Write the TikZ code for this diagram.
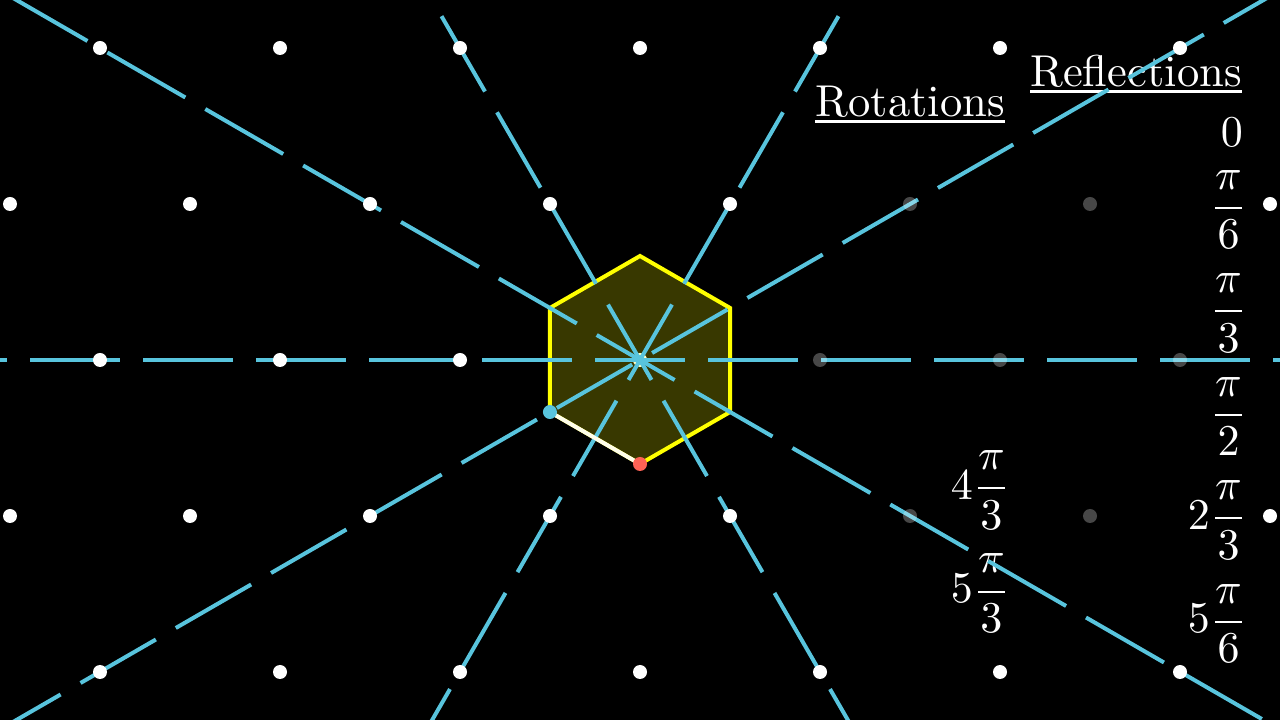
\documentclass[tikz,border=0pt]{standalone}
\usepackage{graphicx}
\usetikzlibrary{calc}
\definecolor{mblue}{HTML}{58C4DD}
\definecolor{mred}{HTML}{FC6255}
\definecolor{myellow}{HTML}{FFFF00}
\newcommand\bigtxt[1]{\scalebox{4.4}{#1}}
\newcommand\bigword[1]{\scalebox{4.46}{#1}}
\tikzset{
  lbl/.style={inner sep=0pt, text=white},
  uline/.style={draw=white, line width=2.5pt},
  axisline/.style={draw=mblue, line width=4pt},
  latdot/.style={fill=white},
  dimdot/.style={fill=white, fill opacity=0.28},
}
\begin{document}
\begin{tikzpicture}[x=1pt,y=1pt]
\useasboundingbox (0,0) rectangle (1280,720);
\fill[black] (0,0) rectangle (1280,720);
\coordinate (c) at (640,360);

% labels
\node[lbl, anchor=base east] (refl) at (1242,633.3) {\bigword{Reflections}};
\draw[uline] ([yshift=-5pt]refl.base west) -- ([yshift=-5pt]refl.base east);
\node[lbl, anchor=base east] (rot) at (1005,603.3) {\bigword{Rotations}};
\draw[uline] ([yshift=-5pt]rot.base west) -- ([yshift=-5pt]rot.base east);

\node[lbl, anchor=base east] (r0) at (1243,573) {\bigtxt{$0$}};
\node[lbl, anchor=base east] (r1) at (1247.3,501.2) {\bigtxt{$\displaystyle\frac{\pi}{6}$}};
\node[lbl, anchor=base east] (r2) at (1247.3,397.7) {\bigtxt{$\displaystyle\frac{\pi}{3}$}};
\node[lbl, anchor=base east] (r3) at (1247.3,294.2) {\bigtxt{$\displaystyle\frac{\pi}{2}$}};
\node[lbl, anchor=base east] (r4) at (1247.3,190.7) {\bigtxt{$\displaystyle 2\frac{\pi}{3}$}};
\node[lbl, anchor=base east] (r5) at (1247.3,87.2) {\bigtxt{$\displaystyle 5\frac{\pi}{6}$}};
\node[lbl, anchor=base east] (q4) at (1010.3,220.7) {\bigtxt{$\displaystyle 4\frac{\pi}{3}$}};
\node[lbl, anchor=base east] (q5) at (1010.3,117.3) {\bigtxt{$\displaystyle 5\frac{\pi}{3}$}};

% hexagon
\fill[white] (c) circle (7);
\filldraw[fill=myellow, fill opacity=0.22, draw=myellow, line width=4pt, line join=miter]
  ($(c)+(90:104)$) -- ($(c)+(30:104)$) -- ($(c)+(-30:104)$) -- ($(c)+(-90:104)$)
  -- ($(c)+(-150:104)$) -- ($(c)+(150:104)$) -- cycle;

% reflection axes
\draw[axisline, dash pattern=on 90pt off 23pt] ($(c)+(180:723)$) -- ($(c)+(0:700)$);
\draw[axisline, dash pattern=on 87pt off 23pt] ($(c)+(210:756)$) -- ($(c)+(30:760)$);
\draw[axisline, dash pattern=on 87pt off 24pt] ($(c)+(240:467)$) -- ($(c)+(60:450)$);
\draw[axisline, dash pattern=on 87pt off 24pt] ($(c)+(300:467)$) -- ($(c)+(120:450)$);
\draw[axisline, dash pattern=on 90pt off 23pt] ($(c)+(330:831)$) -- ($(c)+(150:800)$);

% lattice
\foreach \y in {48,360,672}{
  \foreach \x in {100,280,...,1180}{
    \ifnum\x=640 \ifnum\y=360 \else \fill[latdot] (\x,\y) circle (7); \fi
    \else
      \ifnum\y=360
        \ifnum\x>700 \fill[dimdot] (\x,\y) circle (7); \else \fill[latdot] (\x,\y) circle (7); \fi
      \else \fill[latdot] (\x,\y) circle (7); \fi
    \fi
  }
}
\foreach \y in {204,516}{
  \foreach \x in {10,190,...,1270}{
    \ifnum\x=910 \fill[dimdot] (\x,\y) circle (7);
    \else \ifnum\x=1090 \fill[dimdot] (\x,\y) circle (7);
    \else \fill[latdot] (\x,\y) circle (7); \fi\fi
  }
}

% highlighted edge and markers
\coordinate (vb) at ($(c)+(-150:104)$);
\coordinate (vr) at ($(c)+(-90:104)$);
\draw[white!92!yellow, line width=4pt] (vb) -- (vr);
\fill[mblue] (vb) circle (7);
\fill[mred] (vr) circle (7);
\fill[mblue] (c) circle (5);
\end{tikzpicture}
\end{document}
